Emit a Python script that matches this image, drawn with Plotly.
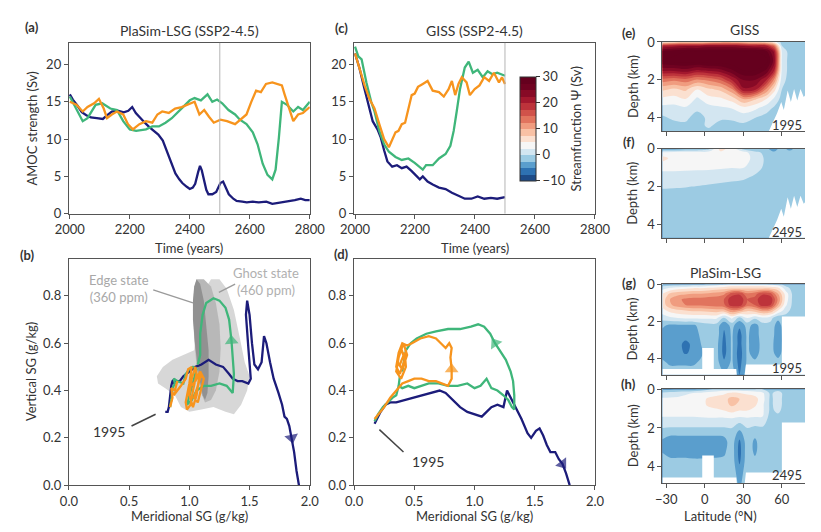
import plotly.graph_objects as go

W, H = 821, 532

# ---------------- (a) PlaSim-LSG AMOC strength (Sv) ----------------
a_navy_year = [2000, 2010, 2025, 2040, 2055, 2070, 2090, 2110, 2125, 2140, 2160, 2180, 2195, 2208, 2220, 2235,
               2250, 2265, 2280, 2295, 2310, 2320, 2330, 2340, 2352, 2365, 2375, 2390, 2400, 2410, 2418, 2428,
               2434, 2440, 2448, 2455, 2462, 2475, 2488, 2495, 2502, 2511, 2520, 2530, 2545, 2556, 2575, 2590,
               2610, 2630, 2655, 2675, 2690, 2707, 2725, 2750, 2770, 2785, 2800]
a_navy_amoc = [16.0, 15.3, 14.5, 13.6, 13.2, 12.9, 12.8, 12.7, 13.2, 13.7, 13.8, 13.6, 13.8, 14.3, 13.5, 12.8,
               12.2, 11.6, 11.1, 10.6, 9.8, 8.8, 7.6, 6.6, 5.4, 4.6, 4.1, 3.6, 3.3, 3.5, 4.0, 5.6,
               6.4, 5.8, 4.6, 3.2, 2.6, 2.6, 2.9, 3.6, 4.1, 4.3, 3.4, 2.6, 2.0, 1.7, 1.6, 1.5,
               1.6, 1.5, 1.6, 1.3, 1.4, 1.5, 1.7, 1.8, 2.0, 1.8, 1.8]
a_green_year = [2000, 2027, 2043, 2059, 2086, 2108, 2135, 2157, 2178, 2200, 2221, 2254, 2275, 2297, 2319, 2340,
                2362, 2383, 2400, 2416, 2437, 2459, 2475, 2491, 2508, 2529, 2551, 2567, 2589, 2610, 2626, 2643,
                2659, 2675, 2686, 2697, 2707, 2724, 2745, 2761, 2777, 2800]
a_green_amoc = [15.7, 13.7, 12.4, 12.8, 14.6, 14.8, 14.1, 13.9, 12.4, 11.3, 11.1, 11.3, 11.7, 11.7, 12.2, 12.8,
                13.7, 14.6, 15.2, 15.5, 15.2, 16.0, 15.0, 15.3, 14.8, 13.9, 13.3, 12.6, 12.0, 10.9, 9.3, 6.7,
                5.2, 4.6, 5.9, 10.2, 15.0, 14.6, 13.7, 14.3, 13.9, 15.0]
a_orange_year = [2000, 2022, 2043, 2059, 2081, 2097, 2113, 2124, 2140, 2157, 2178, 2194, 2210, 2232, 2254, 2275,
                 2292, 2308, 2330, 2351, 2373, 2400, 2416, 2432, 2448, 2464, 2480, 2502, 2524, 2551, 2567, 2589,
                 2605, 2621, 2637, 2654, 2675, 2691, 2707, 2716, 2724, 2735, 2745, 2761, 2777, 2800]
a_orange_amoc = [15.0, 14.6, 13.7, 14.3, 14.8, 15.4, 14.1, 12.8, 13.3, 13.7, 13.3, 12.0, 11.3, 12.0, 12.4, 12.2,
                 13.3, 13.7, 13.5, 14.1, 14.3, 14.8, 15.0, 13.3, 13.9, 13.0, 12.2, 12.6, 12.4, 12.0, 12.6, 13.3,
                 15.0, 16.5, 16.3, 17.4, 17.6, 17.4, 17.2, 16.0, 15.0, 13.5, 12.4, 13.3, 13.5, 14.3]

# ---------------- (c) GISS AMOC strength (Sv) ----------------
c_navy_year = [2000, 2015, 2030, 2048, 2059, 2075, 2086, 2097, 2108, 2124, 2140, 2156, 2172, 2189, 2205, 2216,
               2226, 2242, 2259, 2280, 2302, 2323, 2345, 2366, 2388, 2409, 2431, 2453, 2474, 2500]
c_navy_amoc = [21.5, 19.5, 17.0, 14.1, 12.4, 11.3, 10.2, 8.5, 7.0, 6.3, 6.5, 6.1, 6.3, 5.7, 5.0, 4.6,
               5.0, 4.3, 3.9, 3.5, 3.3, 2.8, 2.4, 2.0, 2.0, 2.3, 2.0, 2.1, 2.0, 2.2]
c_green_year = [2000, 2011, 2022, 2038, 2054, 2065, 2081, 2097, 2113, 2135, 2156, 2178, 2199, 2216, 2226, 2237,
                2259, 2280, 2302, 2318, 2329, 2339, 2350, 2366, 2379, 2393, 2409, 2426, 2442, 2458, 2474, 2500]
c_green_amoc = [22.4, 21.1, 20.7, 17.6, 15.0, 13.7, 11.1, 9.3, 8.3, 7.6, 7.2, 7.4, 6.8, 6.3, 5.9, 6.5,
                6.5, 7.4, 8.0, 9.1, 11.1, 13.7, 16.7, 19.6, 20.4, 18.9, 19.3, 18.3, 19.1, 18.7, 18.9, 18.5]
c_orange_year = [2000, 2016, 2032, 2048, 2065, 2081, 2097, 2113, 2124, 2135, 2145, 2156, 2167, 2178, 2189, 2199,
                 2210, 2226, 2242, 2259, 2280, 2296, 2312, 2323, 2334, 2345, 2356, 2372, 2383, 2399, 2415, 2431,
                 2447, 2463, 2480, 2490, 2500]
c_orange_amoc = [21.5, 19.3, 17.2, 15.4, 14.1, 12.0, 10.0, 8.9, 9.8, 10.9, 11.1, 12.0, 12.2, 13.9, 15.9, 16.1,
                 17.0, 17.4, 17.8, 16.5, 16.3, 15.7, 16.7, 17.8, 15.9, 17.4, 18.3, 17.6, 15.9, 16.7, 17.2, 18.3,
                 17.8, 18.9, 17.6, 18.3, 17.4]

# ---------------- (b) PlaSim-LSG salinity gradients (g/kg) ----------------
b_navy_mer = [0.80, 0.82, 0.83, 0.84, 0.85, 0.86, 0.88, 0.86, 0.88, 0.92, 0.95, 1.00, 1.05, 1.10, 1.16, 1.22,
              1.28, 1.33, 1.36, 1.40, 1.44, 1.49, 1.51, 1.49, 1.47, 1.48, 1.50, 1.52, 1.54, 1.57, 1.60, 1.62,
              1.64, 1.67, 1.70, 1.74, 1.77, 1.79, 1.81, 1.83, 1.85, 1.87, 1.89, 1.91]
b_navy_ver = [0.31, 0.31, 0.33, 0.38, 0.42, 0.44, 0.45, 0.43, 0.44, 0.44, 0.46, 0.48, 0.50, 0.51, 0.53, 0.51,
              0.50, 0.47, 0.45, 0.44, 0.44, 0.43, 0.45, 0.58, 0.72, 0.78, 0.72, 0.60, 0.51, 0.49, 0.52, 0.63,
              0.60, 0.52, 0.45, 0.39, 0.34, 0.29, 0.28, 0.25, 0.20, 0.14, 0.06, 0.00]
b_green_mer = [0.84, 0.85, 0.86, 0.88, 0.87, 0.90, 0.95, 0.97, 1.00, 1.03, 1.06, 1.04, 1.00, 0.98, 1.02, 1.06,
               1.12, 1.18, 1.25, 1.31, 1.36, 1.37, 1.36, 1.35, 1.33, 1.30, 1.25, 1.20, 1.14, 1.11, 1.09, 1.09, 1.07]
b_green_ver = [0.33, 0.36, 0.41, 0.43, 0.45, 0.44, 0.43, 0.47, 0.49, 0.50, 0.49, 0.45, 0.38, 0.34, 0.36, 0.40,
               0.42, 0.42, 0.43, 0.42, 0.39, 0.47, 0.54, 0.61, 0.70, 0.75, 0.78, 0.79, 0.77, 0.72, 0.64, 0.55, 0.51]
b_orange_mer = [0.84, 0.86, 0.85, 0.88, 0.90, 0.87, 0.93, 0.97, 0.99, 1.02, 1.00, 0.97, 0.98, 1.01, 1.03, 1.06,
                1.05, 1.02, 1.00, 1.03, 1.06, 1.08, 1.10, 1.07, 1.04, 1.07, 1.10, 1.12, 1.09, 1.05, 1.02]
b_orange_ver = [0.33, 0.37, 0.41, 0.40, 0.44, 0.38, 0.42, 0.45, 0.49, 0.50, 0.43, 0.35, 0.32, 0.34, 0.40, 0.47,
                0.50, 0.45, 0.38, 0.33, 0.38, 0.45, 0.47, 0.42, 0.37, 0.35, 0.41, 0.45, 0.48, 0.44, 0.42]
b_arrow_idx = {"navy": 40, "green": 23}

# state-space regions in (b)
ghost_mer = [0.73, 0.78, 0.86, 0.95, 1.04, 1.08, 1.12, 1.18, 1.25, 1.31, 1.37, 1.42, 1.46, 1.50, 1.48, 1.43,
             1.37, 1.30, 1.20, 1.10, 1.00, 0.93, 0.88, 0.80, 0.74]
ghost_ver = [0.46, 0.50, 0.53, 0.55, 0.57, 0.70, 0.82, 0.87, 0.87, 0.83, 0.74, 0.62, 0.52, 0.46, 0.40, 0.34,
             0.30, 0.31, 0.33, 0.32, 0.31, 0.33, 0.38, 0.41, 0.43]
edge_outer_mer = [1.06, 1.12, 1.18, 1.22, 1.25, 1.26, 1.25, 1.22, 1.18, 1.13, 1.09, 1.06, 1.04, 1.03, 1.04, 1.06]
edge_outer_ver = [0.87, 0.87, 0.84, 0.77, 0.68, 0.58, 0.48, 0.40, 0.36, 0.35, 0.40, 0.50, 0.62, 0.74, 0.83, 0.87]
edge_mer = [1.06, 1.09, 1.12, 1.14, 1.16, 1.16, 1.15, 1.13, 1.11, 1.08, 1.05, 1.03, 1.03, 1.04, 1.06]
edge_ver = [0.87, 0.85, 0.78, 0.68, 0.57, 0.46, 0.39, 0.36, 0.38, 0.46, 0.58, 0.70, 0.78, 0.84, 0.87]

# ---------------- (d) GISS salinity gradients (g/kg) ----------------
d_navy_mer = [0.17, 0.19, 0.22, 0.26, 0.30, 0.35, 0.42, 0.50, 0.58, 0.65, 0.71, 0.76, 0.82, 0.88, 0.94, 1.00,
              1.06, 1.10, 1.14, 1.19, 1.24, 1.27, 1.30, 1.34, 1.39, 1.44, 1.47, 1.51, 1.54, 1.57, 1.60, 1.63,
              1.67, 1.70, 1.73, 1.76, 1.79]
d_navy_ver = [0.26, 0.28, 0.31, 0.34, 0.35, 0.35, 0.36, 0.37, 0.38, 0.39, 0.40, 0.39, 0.36, 0.33, 0.31, 0.30,
              0.29, 0.31, 0.33, 0.34, 0.33, 0.40, 0.37, 0.33, 0.28, 0.22, 0.20, 0.23, 0.24, 0.21, 0.17, 0.14,
              0.14, 0.11, 0.09, 0.05, 0.00]
d_green_mer = [0.17, 0.20, 0.24, 0.28, 0.32, 0.35, 0.37, 0.38, 0.37, 0.40, 0.45, 0.50, 0.56, 0.62, 0.70, 0.78,
               0.86, 0.94, 1.00, 1.05, 1.10, 1.14, 1.19, 1.24, 1.28, 1.31, 1.33, 1.33, 1.32, 1.30, 1.26, 1.21,
               1.17, 1.13, 1.08, 1.03, 0.97, 0.88, 0.78, 0.68, 0.60, 0.52, 0.47, 0.43, 0.41, 0.40]
d_green_ver = [0.27, 0.30, 0.33, 0.35, 0.37, 0.38, 0.42, 0.46, 0.42, 0.41, 0.42, 0.41, 0.42, 0.43, 0.43, 0.42,
               0.42, 0.43, 0.41, 0.42, 0.45, 0.41, 0.40, 0.38, 0.36, 0.33, 0.32, 0.38, 0.44, 0.48, 0.53, 0.57,
               0.60, 0.64, 0.67, 0.68, 0.67, 0.66, 0.66, 0.65, 0.64, 0.62, 0.60, 0.57, 0.52, 0.48]
d_orange_mer = [0.17, 0.20, 0.25, 0.30, 0.35, 0.40, 0.45, 0.50, 0.56, 0.62, 0.68, 0.74, 0.78, 0.81, 0.81, 0.80,
                0.81, 0.79, 0.76, 0.72, 0.68, 0.62, 0.55, 0.48, 0.44, 0.40, 0.37, 0.35, 0.38, 0.42, 0.39, 0.36,
                0.40, 0.44, 0.41, 0.37, 0.35, 0.39, 0.43, 0.42, 0.38]
d_orange_ver = [0.28, 0.30, 0.33, 0.37, 0.40, 0.43, 0.44, 0.45, 0.45, 0.44, 0.44, 0.43, 0.42, 0.45, 0.49, 0.54,
                0.58, 0.60, 0.58, 0.60, 0.62, 0.63, 0.62, 0.60, 0.59, 0.60, 0.56, 0.50, 0.47, 0.53, 0.58, 0.52,
                0.49, 0.55, 0.60, 0.54, 0.48, 0.45, 0.50, 0.56, 0.51]
d_arrow_idx = {"navy": 34, "green": 32, "orange": 14}

# ---------------- (e)-(h) overturning streamfunction (Sv) ----------------
lat_giss = [-33, -24, -15, -6, 3, 12, 21, 30, 39, 48, 54, 60, 66, 72, 78]
dep_giss = [0, 0.2, 0.5, 1.0, 1.5, 2.0, 2.5, 3.0, 3.5, 4.0, 4.4, 4.8]
psi_giss_1995 = [
    [5, 6, 7, 7, 8, 9, 9, 8, 7, 6, 4, -1, -1, -1, -1],
    [20, 21, 22, 22, 23, 23, 23, 22, 21, 20, 14, 0, -1, -1, -1],
    [28, 29, 30, 30, 30, 30, 30, 30, 30, 28, 22, 2, -1, -1, -1],
    [30, 31, 31, 31, 32, 32, 32, 33, 33, 31, 24, 2, -1, -1, -1],
    [23, 23, 24, 22, 23, 24, 27, 30, 30, 27, 20, 2, -1, -1, -1],
    [14, 13, 14, 12, 13, 15, 20, 25, 25, 20, 12, 1, -1, -1, -1],
    [8, 7, 8, 5, 7, 8, 12, 22, 21, 12, 6, 0, -1, -1, -1],
    [4.5, 4, 5, 2, 4, 4.5, 6, 10, 8, 5, 2, -1, -1, -1, -1],
    [1.5, 1.5, 2, 0.5, 1.5, 2, 2.5, 4, 3, 1, -0.5, -1, -1, -1, -1],
    [-0.5, 0.5, 0.5, -1, 0.5, 0.5, 0.5, 1, 0, -1, -1, -1, -1, -1, -1],
    [-1, -1, -0.5, -1, 0.5, -1, -1, -0.5, -1, -1, -1, -1, -1, -1, -1],
    [-1, -1, -1, -1, -1, -1, -1, -1, -1, -1, -1, -1, -1, -1, -1],
]
psi_giss_2495 = [
    [-4, -4, -3, -3, -1, 6, 4, -1, -3, -2, -4, -1, -4, -1, -1],
    [3, 3.5, 3.5, 3.5, 3.5, 4.5, 4.5, 3.5, 1, -1, -2, -1, -1, -1, -1],
    [6, 4, 4, 4, 4, 4, 4, 4, 1.5, -0.5, -1, -1, -1, -1, -1],
    [3.2, 3.2, 3.1, 3, 3, 2.8, 2.6, 2.6, 0.8, -0.5, -1, -1, -1, -1, -1],
    [1.4, 1.4, 1.3, 1.2, 1.0, 0.8, 0.6, 0.4, -0.3, -1, -1, -1, -1, -1, -1],
    [0.3, 0.2, 0.1, -0.1, -0.3, -0.5, -0.7, -0.9, -1, -1, -1, -1, -1, -1, -1],
    [-1, -1, -1, -1, -1, -1, -1, -1, -1, -1, -1, -1, -1, -1, -1],
    [-1, -1, -1, -1, -1, -1, -1, -1, -1, -1, -1, -1, -1, -1, -1],
    [-1, -1, -1, -1, -1, -1, -1, -1, -1, -1, -1, -1, -1, -1, -1],
    [-1, -1, -1, -1, -1, -1, -1, -1, -1, -1, -1, -1, -1, -1, -1],
    [-1, -1, -1, -1, -1, -1, -1, -1, -1, -1, -1, -1, -1, -1, -1],
    [-1, -1, -1, -1, -1, -1, -1, -1, -1, -1, -1, -1, -1, -1, -1],
]
lat_plasim = [-33, -27, -21, -15, -9, -3, 3, 9, 15, 21, 27, 33, 39, 45, 51, 57, 63, 69, 78]
dep_plasim = [0, 0.2, 0.5, 0.8, 1.1, 1.4, 1.8, 2.2, 2.7, 3.2, 3.7, 4.2, 4.85]
psi_plasim_1995 = [
    [-1.5, -1.5, -1.5, -1.5, -1, -1, 0.5, 1, 2, 3, 3, 3, 3, 3, 2, 1, -1, -1, -1],
    [1.5, 3, 4, 4.5, 5, 5, 5.5, 6, 6.5, 7, 7, 7, 7, 7, 7, 6, 1, -1, -1],
    [5, 8, 9, 9.5, 10, 10, 10.5, 11, 12, 16, 17, 13, 14, 17, 16, 10, 4, -1, -1],
    [6, 10, 12, 13, 13.5, 13.5, 14, 14, 15, 19.5, 20, 15, 16, 20, 19.5, 12, 4, -1, -1],
    [6, 9.5, 11.5, 12.5, 13, 13, 13.5, 14, 14.5, 19, 19, 14, 15, 19, 18, 10, 3, -1, -1],
    [4, 6, 7, 7.5, 8, 8, 8.5, 9, 9, 12, 11, 8, 9, 11, 10, 5, 1, -1, -1],
    [1, 2, 2.5, 3, 3, 3, 3, 3, -0.5, 3, -1, 2.5, 0.5, 2, 1, -2, -1, -1, -1],
    [-2, -3, -3, -3, -3, -1.5, -1, -1, -4.5, -1.5, -4.5, -1.5, -3.5, -1, -1, -3.5, -1, -1, -1],
    [-3.5, -4, -4, -4, -4, -2, -1, -1, -5.5, -2, -6, -2, -4, -1, -1, -4, -1, -1, -1],
    [-3.5, -4, -4.3, -5.6, -4.5, -2.5, -1, -1.5, -6, -2, -6, -2, -4, -1.5, -1.5, -4, -1, -1, -1],
    [-3.5, -4, -4.3, -5.2, -4.5, -3, -1, -1.5, -6, -2, -6.5, -2, -3.5, -1.5, -1.5, -3.5, -1, -1, -1],
    [-2, -3, -3, -3, -3, -2, -1, -1.5, -4.5, -2, -6, -2, -2, -1, -1, -1.5, -1, -1, -1],
    [-1, -1, -1, -1, -1, -1, -1, -1, -2, -1, -5, -1, -1, -1, -1, -1, -1, -1, -1],
]
psi_plasim_2495 = [
    [-3, -3, -3, -3, -3, -2, -0.5, 0.5, 1, 1, 1, 0.5, 0, 0, -0.5, -1, -1, -1, -1],
    [0.5, 1, 1.5, 2, 2.5, 3, 3.5, 4, 4.5, 5.5, 5, 4.5, 4, 3, -0.5, 1, -1, -1, -1],
    [3, 3, 3, 3.5, 3.5, 4, 5.5, 6, 6.5, 8.5, 7.5, 6.5, 6, 3.5, -0.5, 1, -1, -1, -1],
    [3, 3, 3, 3.5, 3.5, 4, 5.5, 6, 6.5, 8, 7, 6.5, 5.5, 3, -0.5, 1, -1, -1, -1],
    [3, 3, 3, 3, 3, 3.5, 4, 4.5, 5, 6, 5, 5, 4, 3, -0.5, 0.5, -1, -1, -1],
    [2.6, 2.6, 2.6, 2.6, 2.6, 2.7, 2.8, 2.8, 2.8, 3, 2.8, 2.8, 2.7, 2.6, -1, -0.5, -1, -1, -1],
    [1, 1, 1, 1, 1, 1, 1, 1, 1, 1, -0.5, 1, 0.5, 0.5, -1, -1, -1, -1, -1],
    [-1, -1.5, -1.5, -1.5, -1.5, -1.5, -1.5, -1.5, -1.5, -1, -3, -1, -1.5, -1, -1, -1, -1, -1, -1],
    [-3, -4, -4, -4, -4, -4, -4, -4, -3.5, -1, -5.5, -1, -3, -1, -1, -1, -1, -1, -1],
    [-2.7, -3.5, -3.5, -3.5, -4, -4, -3.5, -3.5, -3, -1, -6, -1, -3, -1, -1, -1, -1, -1, -1],
    [-1.5, -2, -2, -2, -2, -2, -2, -2, -2, -1, -5.5, -1, -2, -1, -1, -1, -1, -1, -1],
    [-1, -1, -1, -1, -1, -1, -1, -1, -1, -1, -4, -1, -1, -1, -1, -1, -1, -1, -1],
    [-1, -1, -1, -1, -1, -1, -1, -1, -1, -1, -3, -1, -1, -1, -1, -1, -1, -1, -1],
]
# ocean bottom (land mask) outlines
topo_giss_lat = [49.5, 53.25, 56.25, 59.5, 61.5, 64.5, 67, 69.5, 72, 74.5, 77, 78, 78, 49.5]
topo_giss_dep = [4.75, 4.19, 3.76, 3.16, 3.59, 2.56, 3.16, 2.48, 3.08, 2.48, 2.9, 2.82, 4.9, 4.9]
topo_plasim_lat = [-33, -2, -2, 7, 7, 24.5, 25, 31, 32, 60, 60, 78, 78, -33]
topo_plasim_dep = [4.55, 4.55, 3.42, 3.42, 4.55, 4.55, 4.9, 4.9, 4.3, 4.3, 1.72, 1.72, 4.95, 4.95]

cbar_ticks = [-10, 0, 10, 20, 30]
band_colors = ['#1d4b87', '#2e72b2', '#5a9ecd', '#9ccbe3', '#d3e6f1', '#f6f6f6', '#fbe0d0', '#f8c1a5',
               '#f09c7f', '#e1745e', '#d0524a', '#bd333b', '#a3182e', '#870a26', '#700221', '#65001e']

# ---------------- styling ----------------
NAVY, GREEN, ORANGE = '#1c1c7a', '#3fb67a', '#f7941d'
FRAME = '#555555'
TXT = '#333333'
FONT = 'Lato'


def px(x):
    return x / W


def py(y):
    return 1 - y / H


band_scale = []
for i, c in enumerate(band_colors):
    band_scale.append([i / 16, c])
    band_scale.append([(i + 1) / 16, c])

fig = go.Figure()


def line(x, y, color, ax):
    fig.add_trace(go.Scatter(x=x, y=y, mode='lines', line=dict(color=color, width=2.3),
                             xaxis='x' + ax, yaxis='y' + ax, hoverinfo='skip', showlegend=False))


def arrow(x, y, k, color, ax):
    fig.add_trace(go.Scatter(x=[x[k - 1], x[k]], y=[y[k - 1], y[k]], mode='markers',
                             marker=dict(symbol='triangle-up', size=[0, 12], angleref='previous', color=color,
                                         line=dict(width=0)),
                             xaxis='x' + ax, yaxis='y' + ax, hoverinfo='skip', showlegend=False))


def region(x, y, color, ax):
    fig.add_trace(go.Scatter(x=x, y=y, mode='lines', fill='toself', fillcolor=color, line=dict(width=0, color=color),
                             xaxis='x' + ax, yaxis='y' + ax, hoverinfo='skip', showlegend=False))


# (a)
line(a_navy_year, a_navy_amoc, NAVY, '')
line(a_green_year, a_green_amoc, GREEN, '')
line(a_orange_year, a_orange_amoc, ORANGE, '')
# (c)
line(c_navy_year, c_navy_amoc, NAVY, '2')
line(c_green_year, c_green_amoc, GREEN, '2')
line(c_orange_year, c_orange_amoc, ORANGE, '2')
# (b)
region(ghost_mer, ghost_ver, '#d7d7d7', '3')
region(edge_outer_mer, edge_outer_ver, '#b8b8b8', '3')
region(edge_mer, edge_ver, '#919191', '3')
line(b_navy_mer, b_navy_ver, NAVY, '3')
line(b_green_mer, b_green_ver, GREEN, '3')
line(b_orange_mer, b_orange_ver, ORANGE, '3')
arrow(b_navy_mer, b_navy_ver, b_arrow_idx['navy'], NAVY, '3')
arrow(b_green_mer, b_green_ver, b_arrow_idx['green'], GREEN, '3')
# (d)
line(d_navy_mer, d_navy_ver, NAVY, '4')
line(d_green_mer, d_green_ver, GREEN, '4')
line(d_orange_mer, d_orange_ver, ORANGE, '4')
arrow(d_navy_mer, d_navy_ver, d_arrow_idx['navy'], NAVY, '4')
arrow(d_green_mer, d_green_ver, d_arrow_idx['green'], GREEN, '4')
arrow(d_orange_mer, d_orange_ver, d_arrow_idx['orange'], ORANGE, '4')


def section(lat, dep, z, ax, showscale=False):
    cb = dict(x=px(525), xanchor='left', y=py(124.5), yanchor='middle', len=107 / H, lenmode='fraction',
              thickness=16, thicknessmode='pixels', xpad=0, ypad=0, outlinewidth=1, outlinecolor=TXT,
              tickvals=cbar_ticks, ticks='outside', ticklen=4, tickcolor=TXT,
              tickfont=dict(size=13, color=TXT, family=FONT),
              title=dict(text='Streamfunction Ψ (Sv)', side='right', font=dict(size=13, color=TXT, family=FONT)))
    fig.add_trace(go.Contour(x=lat, y=dep, z=z, xaxis='x' + ax, yaxis='y' + ax, colorscale=band_scale,
                             zmin=-10, zmax=30, autocontour=False,
                             contours=dict(start=-10, end=30, size=2.5, coloring='fill', showlines=False),
                             line=dict(width=0), showscale=showscale, colorbar=cb, hoverinfo='skip'))


section(lat_giss, dep_giss, psi_giss_1995, '5', showscale=True)
region(topo_giss_lat, topo_giss_dep, 'white', '5')
section(lat_giss, dep_giss, psi_giss_2495, '6')
region(topo_giss_lat, topo_giss_dep, 'white', '6')
section(lat_plasim, dep_plasim, psi_plasim_1995, '7')
region(topo_plasim_lat, topo_plasim_dep, 'white', '7')
section(lat_plasim, dep_plasim, psi_plasim_2495, '8')
region(topo_plasim_lat, topo_plasim_dep, 'white', '8')

# ---------------- axes ----------------
base = dict(showline=True, linecolor=FRAME, linewidth=1.2, ticks='outside', ticklen=4, tickcolor=FRAME,
            tickwidth=1.2, tickfont=dict(size=13, color=TXT, family=FONT), showgrid=False, zeroline=False)

xa_dom = [px(57), px(307)]
xc_dom = [px(353), px(603)]
xe_dom = [px(673), 1.0]
ya_dom = [py(212), py(36)]
yb_dom = [py(492), py(259)]
ye_dom = [py(127), py(35)]
yf_dom = [py(237), py(145)]
yg_dom = [py(378), py(285)]
yh_dom = [py(490), py(393)]

time_ticks = [2000, 2200, 2400, 2600, 2800]
sg_ticks = [0.0, 0.5, 1.0, 1.5, 2.0]
lat_ticks = [-30, 0, 30, 60]

layout = dict(
    width=W, height=H, margin=dict(l=0, r=0, t=0, b=0), paper_bgcolor='white', plot_bgcolor='white',
    font=dict(family=FONT, color=TXT), showlegend=False,
    xaxis=dict(base, domain=xa_dom, anchor='y', range=[1997, 2800], tickvals=time_ticks, mirror=True),
    yaxis=dict(base, domain=ya_dom, anchor='x', range=[0, 22.9], tickvals=[0, 5, 10, 15, 20], mirror=True),
    xaxis2=dict(base, domain=xc_dom, anchor='y2', range=[1997, 2800], tickvals=time_ticks, mirror=True),
    yaxis2=dict(base, domain=ya_dom, anchor='x2', range=[0, 22.9], tickvals=[0, 5, 10, 15, 20], mirror=True),
    xaxis3=dict(base, domain=xa_dom, anchor='y3', range=[0, 2], tickvals=sg_ticks, tickformat='.1f', mirror=True),
    yaxis3=dict(base, domain=yb_dom, anchor='x3', range=[0, 0.955], tickvals=[0, 0.2, 0.4, 0.6, 0.8],
                tickformat='.1f', mirror=True),
    xaxis4=dict(base, domain=xc_dom, anchor='y4', range=[0, 2], tickvals=sg_ticks, tickformat='.1f', mirror=True),
    yaxis4=dict(base, domain=yb_dom, anchor='x4', range=[0, 0.955], tickvals=[0, 0.2, 0.4, 0.6, 0.8],
                tickformat='.1f', mirror=True),
)
for n, ydom, ymax, labels in [('5', ye_dom, 4.7, False), ('6', yf_dom, 4.7, False),
                               ('7', yg_dom, 4.85, False), ('8', yh_dom, 4.85, True)]:
    layout['xaxis' + n] = dict(base, domain=xe_dom, anchor='y' + n, range=[-33, 78], tickvals=lat_ticks,
                               showticklabels=labels, mirror=True)
    layout['yaxis' + n] = dict(base, domain=ydom, anchor='x' + n, range=[ymax, 0], tickvals=[0, 2, 4],
                               mirror=False)

fig.update_layout(**layout)

# vertical marker at year 2500
for xr, yr in [('x', 'y'), ('x2', 'y2')]:
    fig.add_shape(type='line', xref=xr, yref=yr + ' domain', x0=2500, x1=2500, y0=0, y1=1,
                  line=dict(color='#b4b4b4', width=1))

# pointer lines in (b) and (d)
fig.add_shape(type='line', xref='x3', yref='y3', x0=0.70, y0=0.825, x1=1.03, y1=0.77,
              line=dict(color='#9a9a9a', width=1.3))
fig.add_shape(type='line', xref='x3', yref='y3', x0=1.38, y0=0.85, x1=1.245, y1=0.815,
              line=dict(color='#9a9a9a', width=1.3))
fig.add_shape(type='line', xref='x3', yref='y3', x0=0.52, y0=0.25, x1=0.72, y1=0.30,
              line=dict(color='#444444', width=1.5))
fig.add_shape(type='line', xref='x4', yref='y4', x0=0.41, y0=0.14, x1=0.21, y1=0.235,
              line=dict(color='#444444', width=1.5))

ann = []


def text(x, y, t, size=13, color=TXT, angle=0, xanchor='center', xref='paper', yref='paper', bold=False):
    if bold:
        t = '<b>' + t + '</b>'
    ann.append(dict(x=x, y=y, xref=xref, yref=yref, text=t, showarrow=False, textangle=angle,
                    xanchor=xanchor, yanchor='middle', font=dict(size=size, color=color, family=FONT)))


# panel titles
text(px(182), py(23), 'PlaSim-LSG (SSP2-4.5)', size=14)
text(px(478), py(23), 'GISS (SSP2-4.5)', size=14)
text(px(758), py(22), 'GISS', size=14)
text(px(738), py(273), 'PlaSim-LSG', size=14)
# panel letters
for lab, x, y in [('(a)', 19, 20), ('(b)', 14, 255), ('(c)', 340, 21), ('(d)', 340, 254),
                  ('(e)', 638, 26), ('(f)', 638, 138), ('(g)', 638, 284), ('(h)', 638, 388)]:
    text(px(x), py(y), lab, size=13, bold=True)
# axis titles
text(px(19), py(124), 'AMOC strength (Sv)', angle=-90)
text(px(182), py(247), 'Time (years)')
text(px(478), py(247), 'Time (years)')
text(px(17), py(375), 'Vertical SG (g/kg)', angle=-90)
text(px(182), py(524), 'Meridional SG (g/kg)')
text(px(478), py(524), 'Meridional SG (g/kg)')
for yc in [81, 191, 331, 441]:
    text(px(642), py(yc), 'Depth (km)', angle=-90)
text(px(733), py(524), 'Latitude (°N)')
# years in sections
for t, yc in [('1995', 121), ('2495', 231), ('1995', 371), ('2495', 481)]:
    text(px(820), py(yc), t, xanchor='right')
# labels inside (b), (d)
text(0.42, 0.83, 'Edge state<br>(360 ppm)', color='#a8a8a8', xref='x3', yref='y3')
text(1.64, 0.86, 'Ghost state<br>(460 ppm)', color='#b0b0b0', xref='x3', yref='y3')
text(0.335, 0.225, '1995', size=14, xref='x3', yref='y3')
text(0.61, 0.10, '1995', size=14, xref='x4', yref='y4')

fig.update_layout(annotations=ann)
fig.write_html('out.html')
